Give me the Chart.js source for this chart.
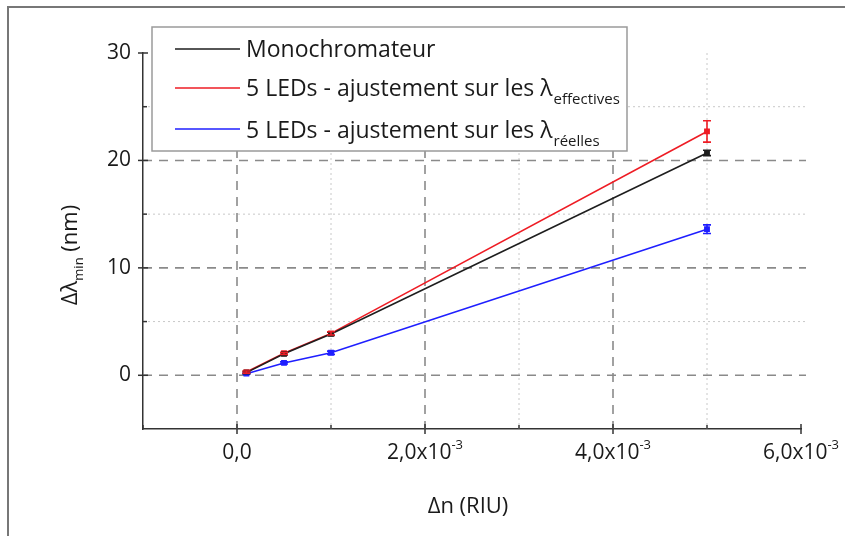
<!DOCTYPE html>
<html>
<head>
<meta charset="utf-8">
<script src="https://cdn.jsdelivr.net/npm/chart.js@4"></script>
<style>
  html, body { margin: 0; padding: 0; background: #fff; }
  #wrap { position: relative; width: 845px; height: 536px; overflow: hidden; }
  #frame { position: absolute; left: 7px; top: 6px; width: 900px; height: 600px; border: 2px solid #777; }
  canvas { position: absolute; left: 0; top: 0; }
</style>
</head>
<body>
<div id="wrap">
  <div id="frame"></div>
  <canvas id="chart" width="845" height="536"></canvas>
</div>
<script>
// data
const dnValues = [0.0001, 0.0005, 0.001, 0.005];

const monoValues = [0.25, 2.0, 3.85, 20.7];
const monoErrors = [0.1, 0.1, 0.15, 0.25];

const effValues = [0.3, 2.05, 3.9, 22.7];
const effErrors = [0.1, 0.1, 0.15, 1.0];

const reelValues = [0.15, 1.15, 2.1, 13.6];
const reelErrors = [0.05, 0.1, 0.15, 0.4];

const xTicks = [0, 0.002, 0.004, 0.006];
const xTickBase = ["0,0", "2,0x10", "4,0x10", "6,0x10"];
const xTickExp = ["", "-3", "-3", "-3"];
const xMinor = [-0.001, 0.001, 0.003, 0.005];

const yTicks = [0, 10, 20, 30];
const yMinor = [5, 15, 25];

const seriesNames = ["Monochromateur", "5 LEDs - ajustement sur les λ", "5 LEDs - ajustement sur les λ"];
const seriesSubs = ["", "effectives", "réelles"];
const seriesColors = ["#1e1e1e", "#ee1c24", "#1f1fff"];

const FONT = "'Open Sans', 'Noto Sans', sans-serif";
const TEXT = "#1a1a1a";

function makeSet(i, values, errors) {
    return {
        label: seriesNames[i] + seriesSubs[i],
        data: dnValues.map((x, k) => ({ x: x, y: values[k] })),
        errors: errors,
        borderColor: seriesColors[i],
        backgroundColor: seriesColors[i],
        borderWidth: 1.6,
        pointStyle: "rect",
        pointRadius: 3,
        showLine: true
    };
}

const decor = {
    id: "decor",
    beforeDatasetsDraw(chart) {
        const ctx = chart.ctx;
        const xs = chart.scales.x, ys = chart.scales.y;
        const a = chart.chartArea;
        ctx.save();
        // minor grid, dotted
        ctx.strokeStyle = "#c8c8c8";
        ctx.lineWidth = 1;
        ctx.setLineDash([2, 3]);
        yMinor.forEach(v => {
            const py = ys.getPixelForValue(v);
            ctx.beginPath(); ctx.moveTo(a.left, py); ctx.lineTo(a.right + 5, py); ctx.stroke();
        });
        xMinor.slice(1).forEach(v => {
            const px = xs.getPixelForValue(v);
            ctx.beginPath(); ctx.moveTo(px, a.top); ctx.lineTo(px, a.bottom); ctx.stroke();
        });
        // major grid, dashed
        ctx.strokeStyle = "#8a8a8a";
        ctx.lineWidth = 1.6;
        ctx.setLineDash([9, 7]);
        yTicks.slice(0, 3).forEach(v => {
            const py = ys.getPixelForValue(v);
            ctx.beginPath(); ctx.moveTo(a.left, py); ctx.lineTo(a.right + 5, py); ctx.stroke();
        });
        xTicks.slice(0, 3).forEach(v => {
            const px = xs.getPixelForValue(v);
            ctx.beginPath(); ctx.moveTo(px, a.top); ctx.lineTo(px, a.bottom); ctx.stroke();
        });
        ctx.restore();
    },
    afterDatasetsDraw(chart) {
        const ctx = chart.ctx;
        const xs = chart.scales.x, ys = chart.scales.y;
        const a = chart.chartArea;
        ctx.save();

        // error bars
        chart.data.datasets.forEach(ds => {
            ctx.strokeStyle = ds.borderColor;
            ctx.lineWidth = 1.6;
            ds.data.forEach((p, k) => {
                const e = ds.errors[k];
                const px = xs.getPixelForValue(p.x);
                const top = ys.getPixelForValue(p.y + e);
                const bot = ys.getPixelForValue(p.y - e);
                ctx.beginPath();
                ctx.moveTo(px, top); ctx.lineTo(px, bot);
                ctx.moveTo(px - 4, top); ctx.lineTo(px + 4, top);
                ctx.moveTo(px - 4, bot); ctx.lineTo(px + 4, bot);
                ctx.stroke();
            });
        });

        // tick marks
        ctx.strokeStyle = "#333";
        ctx.lineWidth = 1.5;
        yTicks.forEach(v => {
            const py = ys.getPixelForValue(v);
            ctx.beginPath(); ctx.moveTo(a.left - 5, py); ctx.lineTo(a.left + 5, py); ctx.stroke();
        });
        yMinor.forEach(v => {
            const py = ys.getPixelForValue(v);
            ctx.beginPath(); ctx.moveTo(a.left, py); ctx.lineTo(a.left + 4, py); ctx.stroke();
        });
        xTicks.forEach(v => {
            const px = xs.getPixelForValue(v);
            ctx.beginPath(); ctx.moveTo(px, a.bottom - 5); ctx.lineTo(px, a.bottom + 5); ctx.stroke();
        });
        xMinor.forEach(v => {
            const px = xs.getPixelForValue(v);
            ctx.beginPath(); ctx.moveTo(px, a.bottom - 4); ctx.lineTo(px, a.bottom); ctx.stroke();
        });

        // x tick labels with superscript
        ctx.fillStyle = TEXT;
        ctx.textBaseline = "alphabetic";
        ctx.textAlign = "left";
        xTicks.forEach((v, i) => {
            const px = xs.getPixelForValue(v);
            ctx.font = "21px " + FONT;
            const w1 = ctx.measureText(xTickBase[i]).width;
            ctx.font = "13px " + FONT;
            const w2 = ctx.measureText(xTickExp[i]).width;
            const x0 = px - (w1 + w2) / 2;
            ctx.font = "21px " + FONT;
            ctx.fillText(xTickBase[i], x0, 459);
            ctx.font = "13px " + FONT;
            ctx.fillText(xTickExp[i], x0 + w1, 449);
        });

        // x title
        ctx.font = "22px " + FONT;
        ctx.textAlign = "center";
        ctx.fillText("Δn (RIU)", 468, 513);

        // y title, rotated, with subscript
        ctx.save();
        ctx.translate(77, 255);
        ctx.rotate(-Math.PI / 2);
        ctx.textAlign = "left";
        ctx.font = "22px " + FONT;
        const t1 = "Δλ", t3 = " (nm)";
        const w1 = ctx.measureText(t1).width, w3 = ctx.measureText(t3).width;
        ctx.font = "13px " + FONT;
        const w2 = ctx.measureText("min").width;
        let x0 = -(w1 + w2 + w3) / 2;
        ctx.font = "22px " + FONT;
        ctx.fillText(t1, x0, 0);
        ctx.font = "13px " + FONT;
        ctx.fillText("min", x0 + w1, 6);
        ctx.font = "22px " + FONT;
        ctx.fillText(t3, x0 + w1 + w2, 0);
        ctx.restore();

        // legend box
        ctx.setLineDash([]);
        ctx.fillStyle = "#fff";
        ctx.fillRect(152, 27, 475, 124);
        ctx.strokeStyle = "#9a9a9a";
        ctx.lineWidth = 1.5;
        ctx.strokeRect(152, 27, 475, 124);
        const rows = [49, 88, 129];
        const bases = [57, 96, 138];
        ctx.textAlign = "left";
        seriesNames.forEach((name, i) => {
            ctx.strokeStyle = seriesColors[i];
            ctx.lineWidth = 1.6;
            ctx.beginPath(); ctx.moveTo(175, rows[i]); ctx.lineTo(240, rows[i]); ctx.stroke();
            ctx.fillStyle = TEXT;
            ctx.font = "23px " + FONT;
            ctx.fillText(name, 246, bases[i]);
            const w = ctx.measureText(name).width;
            ctx.font = "15px " + FONT;
            ctx.fillText(seriesSubs[i], 247 + w, bases[i] + 8);
        });
        ctx.restore();
    }
};

new Chart(document.getElementById("chart"), {
    type: "scatter",
    data: {
        datasets: [
            makeSet(2, reelValues, reelErrors),
            makeSet(0, monoValues, monoErrors),
            makeSet(1, effValues, effErrors)
        ]
    },
    options: {
        responsive: false,
        animation: false,
        layout: { padding: { left: 0, top: 53, right: 44, bottom: 0 } },
        plugins: { legend: { display: false }, tooltip: { enabled: false } },
        scales: {
            x: {
                type: "linear",
                min: -0.001,
                max: 0.006,
                afterFit: s => { s.height = 107; },
                afterBuildTicks: s => { s.ticks = xTicks.map(v => ({ value: v })); },
                grid: { display: false },
                border: { display: true, color: "#333", width: 1.5 },
                ticks: { display: false }
            },
            y: {
                min: -5,
                max: 30,
                afterFit: s => { s.width = 143; },
                afterBuildTicks: s => { s.ticks = yTicks.map(v => ({ value: v })); },
                grid: { display: false, drawTicks: false },
                border: { display: true, color: "#333", width: 1.5 },
                ticks: { color: TEXT, padding: 12, font: { family: FONT, size: 21 } }
            }
        }
    },
    plugins: [decor]
});
</script>
</body>
</html>
